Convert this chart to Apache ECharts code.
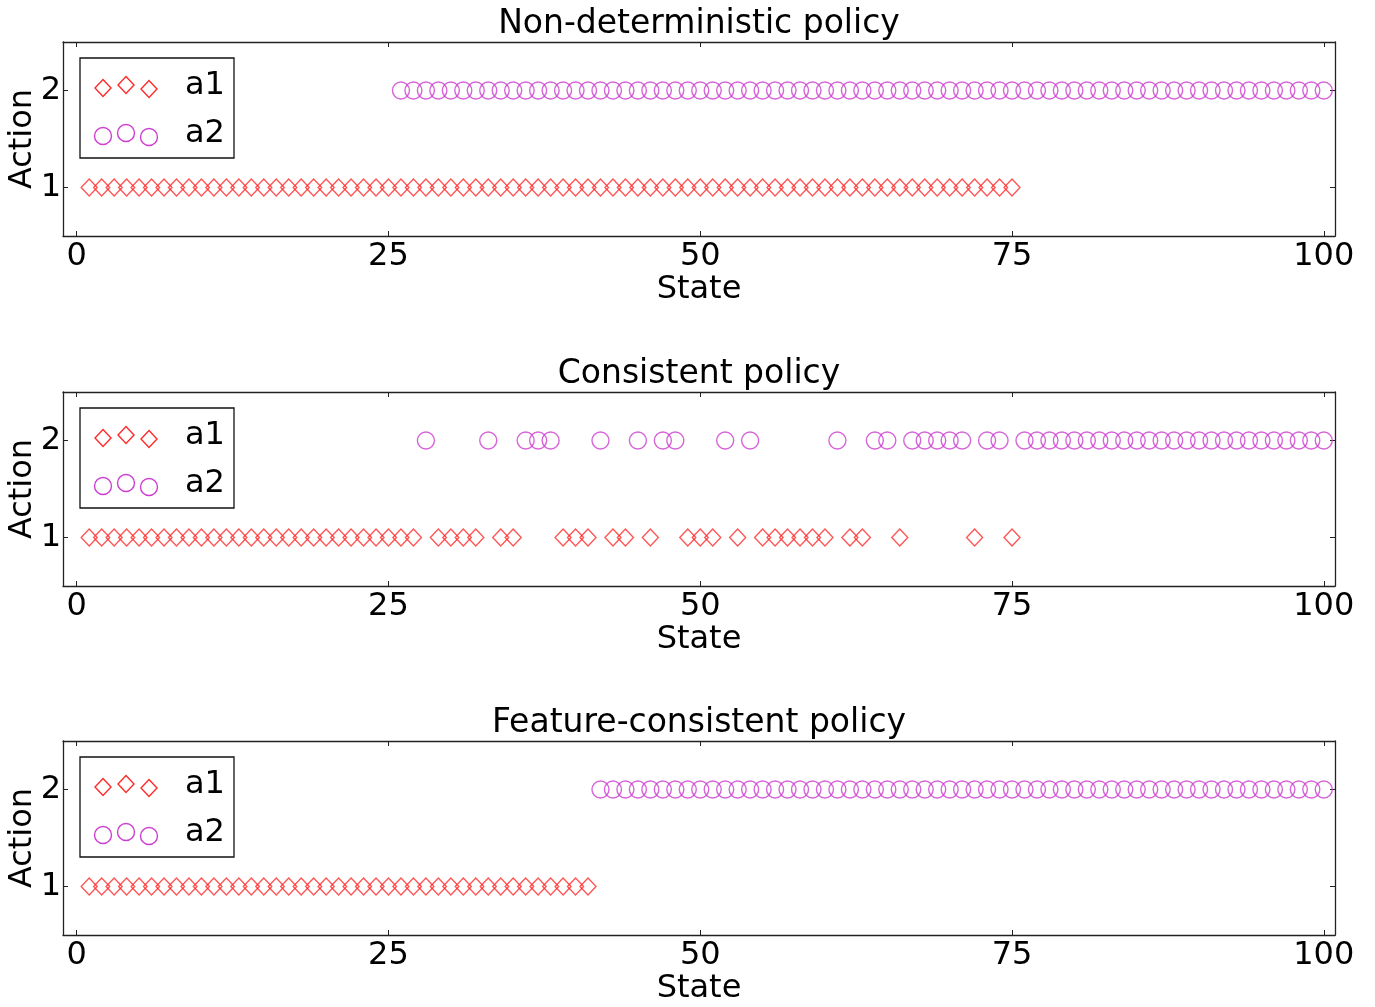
<!DOCTYPE html>
<html>
<head>
<meta charset="utf-8">
<script src="https://cdn.jsdelivr.net/npm/echarts@6/dist/echarts.min.js"></script>
<style>
  html, body { margin: 0; padding: 0; background: #fff; }
  #chart { width: 1375px; height: 1007px; }
</style>
</head>
<body>
<div id="chart"></div>
<script>
// Panel titles, tick values and action names
const panelTitles = ['Non-deterministic policy', 'Consistent policy', 'Feature-consistent policy'];
const xTicks = [0, 25, 50, 75, 100];
const yTicks = [1, 2];
const actionNames = ['a1', 'a2'];

// States at which each action is chosen, per policy
const nonDeterministicA1 = [1, 2, 3, 4, 5, 6, 7, 8, 9, 10, 11, 12, 13, 14, 15, 16, 17, 18, 19, 20, 21, 22, 23, 24, 25,
  26, 27, 28, 29, 30, 31, 32, 33, 34, 35, 36, 37, 38, 39, 40, 41, 42, 43, 44, 45, 46, 47, 48, 49, 50,
  51, 52, 53, 54, 55, 56, 57, 58, 59, 60, 61, 62, 63, 64, 65, 66, 67, 68, 69, 70, 71, 72, 73, 74, 75];
const nonDeterministicA2 = [26, 27, 28, 29, 30, 31, 32, 33, 34, 35, 36, 37, 38, 39, 40, 41, 42, 43, 44, 45, 46, 47, 48, 49, 50,
  51, 52, 53, 54, 55, 56, 57, 58, 59, 60, 61, 62, 63, 64, 65, 66, 67, 68, 69, 70, 71, 72, 73, 74, 75,
  76, 77, 78, 79, 80, 81, 82, 83, 84, 85, 86, 87, 88, 89, 90, 91, 92, 93, 94, 95, 96, 97, 98, 99, 100];

const consistentA1 = [1, 2, 3, 4, 5, 6, 7, 8, 9, 10, 11, 12, 13, 14, 15, 16, 17, 18, 19, 20, 21, 22, 23, 24, 25, 26, 27,
  29, 30, 31, 32, 34, 35, 39, 40, 41, 43, 44, 46, 49, 50, 51, 53, 55, 56, 57, 58, 59, 60, 62, 63, 66, 72, 75];
const consistentA2 = [28, 33, 36, 37, 38, 42, 45, 47, 48, 52, 54, 61, 64, 65, 67, 68, 69, 70, 71, 73, 74,
  76, 77, 78, 79, 80, 81, 82, 83, 84, 85, 86, 87, 88, 89, 90, 91, 92, 93, 94, 95, 96, 97, 98, 99, 100];

const featureConsistentA1 = [1, 2, 3, 4, 5, 6, 7, 8, 9, 10, 11, 12, 13, 14, 15, 16, 17, 18, 19, 20,
  21, 22, 23, 24, 25, 26, 27, 28, 29, 30, 31, 32, 33, 34, 35, 36, 37, 38, 39, 40, 41];
const featureConsistentA2 = [42, 43, 44, 45, 46, 47, 48, 49, 50, 51, 52, 53, 54, 55, 56, 57, 58, 59, 60,
  61, 62, 63, 64, 65, 66, 67, 68, 69, 70, 71, 72, 73, 74, 75, 76, 77, 78, 79, 80,
  81, 82, 83, 84, 85, 86, 87, 88, 89, 90, 91, 92, 93, 94, 95, 96, 97, 98, 99, 100];

const panels = [
  [nonDeterministicA1, nonDeterministicA2],
  [consistentA1, consistentA2],
  [featureConsistentA1, featureConsistentA2]
];

// Layout and styling
const FONT = 'DejaVu Sans';
const RED = '#ff2b2b';
const MAGENTA = '#cc3fd0';
const AXIS = '#222';
const gridLeft = 63, gridWidth = 1272, gridHeight = 194;
const gridTops = [42, 392, 741];

const chart = echarts.init(document.getElementById('chart'), null, { renderer: 'canvas' });

const grids = [], xAxes = [], yAxes = [], series = [], graphics = [];

gridTops.forEach((top, i) => {
  grids.push({ left: gridLeft, top: top, width: gridWidth, height: gridHeight,
               containLabel: false, outerBoundsMode: 'none' });

  const axisLine = { show: true, onZero: false, lineStyle: { color: AXIS, width: 1.3 } };
  const tickStyle = { color: AXIS, width: 1 };

  xAxes.push({
    gridIndex: i, type: 'value', position: 'bottom', min: -1.1, max: 100.9,
    axisLine: axisLine,
    axisTick: { show: true, inside: true, length: 5, customValues: xTicks, lineStyle: tickStyle },
    axisLabel: { customValues: xTicks, fontSize: 32, fontFamily: FONT, color: '#000', margin: 5 },
    splitLine: { show: false },
    name: 'State', nameLocation: 'middle', nameGap: 33,
    nameTextStyle: { fontSize: 32, fontFamily: FONT, color: '#000' }
  });
  xAxes.push({
    gridIndex: i, type: 'value', position: 'top', min: -1.1, max: 100.9,
    axisLine: axisLine,
    axisTick: { show: true, inside: true, length: 5, customValues: xTicks, lineStyle: tickStyle },
    axisLabel: { show: false },
    splitLine: { show: false }
  });
  yAxes.push({
    gridIndex: i, type: 'value', position: 'left', min: 0.5, max: 2.5,
    axisLine: axisLine,
    axisTick: { show: true, inside: true, length: 5, customValues: yTicks, lineStyle: tickStyle },
    axisLabel: { customValues: yTicks, fontSize: 32, fontFamily: FONT, color: '#000', margin: 2 },
    splitLine: { show: false },
    name: 'Action', nameLocation: 'middle', nameGap: 24, nameRotate: 90, nameMoveOverlap: false,
    nameTextStyle: { fontSize: 32, fontFamily: FONT, color: '#000' }
  });
  yAxes.push({
    gridIndex: i, type: 'value', position: 'right', min: 0.5, max: 2.5,
    axisLine: axisLine,
    axisTick: { show: true, inside: true, length: 5, customValues: yTicks, lineStyle: tickStyle },
    axisLabel: { show: false },
    splitLine: { show: false }
  });

  const [a1States, a2States] = panels[i];
  series.push({
    type: 'scatter', name: actionNames[0], xAxisIndex: 2 * i, yAxisIndex: 2 * i,
    data: a1States.map(s => [s, 1]),
    symbol: 'diamond', symbolSize: [16, 17],
    itemStyle: { color: 'rgba(0,0,0,0)', borderColor: RED, borderWidth: 1.4 },
    emphasis: { disabled: true }, silent: true
  });
  series.push({
    type: 'scatter', name: actionNames[1], xAxisIndex: 2 * i, yAxisIndex: 2 * i,
    data: a2States.map(s => [s, 2]),
    symbol: 'circle', symbolSize: 17,
    itemStyle: { color: 'rgba(0,0,0,0)', borderColor: MAGENTA, borderWidth: 1.4 },
    emphasis: { disabled: true }, silent: true
  });

  // Panel title
  graphics.push({
    type: 'text', x: gridLeft + gridWidth / 2, y: top - 18, z: 10,
    style: { text: panelTitles[i], font: '33px ' + FONT, fill: '#000',
             align: 'center', verticalAlign: 'middle', textAlign: 'center', textVerticalAlign: 'middle' }
  });

  // Legend box with three sample markers per entry
  const diamond = (cx, cy) => ({
    type: 'polygon', shape: { points: [[cx, cy - 8.5], [cx + 8, cy], [cx, cy + 8.5], [cx - 8, cy]] },
    style: { fill: 'none', stroke: RED, lineWidth: 1.4 }
  });
  const ring = (cx, cy) => ({
    type: 'circle', shape: { cx: cx, cy: cy, r: 8.5 },
    style: { fill: 'none', stroke: MAGENTA, lineWidth: 1.4 }
  });
  const label = (text, y) => ({
    type: 'text', x: 122, y: y,
    style: { text: text, font: '32px ' + FONT, fill: '#000',
             align: 'left', verticalAlign: 'middle', textAlign: 'left', textVerticalAlign: 'middle' }
  });
  graphics.push({
    type: 'group', x: gridLeft, y: top, z: 20,
    children: [
      { type: 'rect', shape: { x: 17, y: 16, width: 154, height: 100 },
        style: { fill: '#fff', stroke: '#111', lineWidth: 1.3 } },
      diamond(40, 46), diamond(63, 43), diamond(86, 47),
      ring(40, 94), ring(63, 91), ring(86, 95),
      label(actionNames[0], 44), label(actionNames[1], 92)
    ]
  });
});

chart.setOption({
  backgroundColor: '#fff',
  animation: false,
  grid: grids,
  xAxis: xAxes,
  yAxis: yAxes,
  series: series,
  graphic: graphics
});
</script>
</body>
</html>
